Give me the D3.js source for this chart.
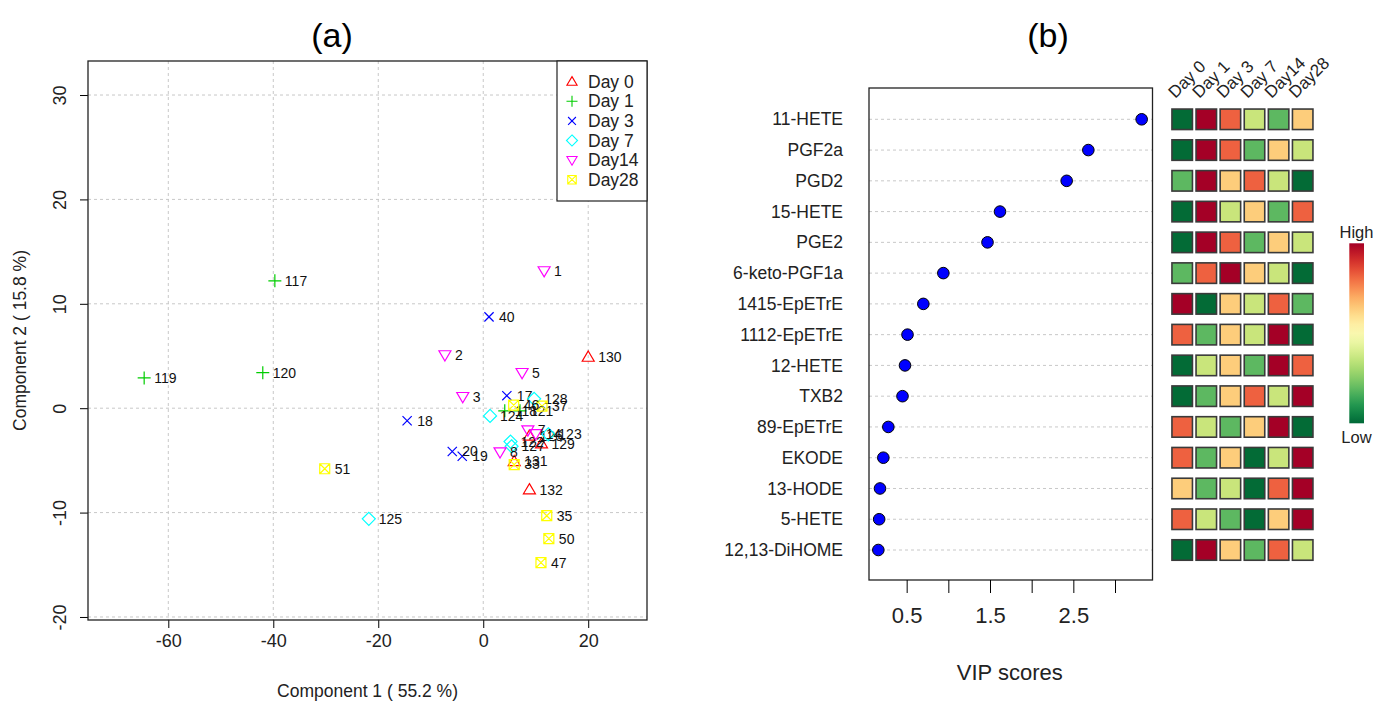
<!DOCTYPE html>
<html>
<head>
<meta charset="utf-8">
<script src="https://cdn.jsdelivr.net/npm/d3@7"></script>
<style>
  body { margin: 0; background: #fff; }
  svg { font-family: "Liberation Sans", Arial, sans-serif; }
</style>
</head>
<body>
<div id="chart"></div>
<script>
// panel (a) - PCA scores, one array per group: [label, comp1, comp2]
var groupNames = ["Day 0", "Day 1", "Day 3", "Day 7", "Day14", "Day28"];
var day0 = [["130", 20.0, 4.9], ["132", 8.8, -7.8], ["126", 8.8, -2.65], ["129", 11.1, -3.4], ["131", 5.9, -5.1]];
var day1 = [["117", -39.7, 12.2], ["119", -64.6, 2.9], ["120", -42.0, 3.4], ["118", 4.1, -0.25], ["121", 7.0, -0.25]];
var day3 = [["40", 1.1, 8.75], ["18", -14.5, -1.2], ["17", 4.5, 1.2], ["20", -5.9, -4.15], ["19", -4.0, -4.6]];
var day7 = [["125", -21.8, -10.6], ["124", 1.3, -0.74], ["128", 9.7, 0.9], ["123", 12.4, -2.5], ["122", 5.2, -3.2], ["127", 5.4, -3.65]];
var day14 = [["1", 11.6, 13.15], ["2", -7.3, 5.1], ["5", 7.4, 3.4], ["3", -3.9, 1.1], ["7", 8.5, -2.1], ["8", 3.2, -4.2], ["14", 10.0, -2.45]];
var day28 = [["51", -30.2, -5.8], ["35", 12.1, -10.3], ["50", 12.5, -12.5], ["47", 11.0, -14.8], ["46", 5.8, 0.3], ["37", 11.2, 0.2], ["33", 5.9, -5.4]];
var xTicksA = [-60, -40, -20, 0, 20];
var yTicksA = [-20, -10, 0, 10, 20, 30];

// panel (b) - VIP scores and relative level ranks (1 = low, 6 = high)
var compounds = ["11-HETE", "PGF2a", "PGD2", "15-HETE", "PGE2", "6-keto-PGF1a", "1415-EpETrE", "1112-EpETrE",
  "12-HETE", "TXB2", "89-EpETrE", "EKODE", "13-HODE", "5-HETE", "12,13-DiHOME"];
var vipScores = [3.32, 2.68, 2.42, 1.62, 1.47, 0.94, 0.70, 0.51, 0.48, 0.45, 0.28, 0.22, 0.18, 0.17, 0.16];
var heatDays = ["Day 0", "Day 1", "Day 3", "Day 7", "Day14", "Day28"];
var heatRanks = [
  [1, 6, 5, 3, 2, 4],
  [1, 6, 5, 2, 4, 3],
  [2, 6, 4, 5, 3, 1],
  [1, 6, 3, 4, 2, 5],
  [1, 6, 5, 2, 4, 3],
  [2, 5, 6, 4, 3, 1],
  [6, 1, 4, 3, 5, 2],
  [5, 2, 4, 3, 6, 1],
  [1, 3, 4, 2, 6, 5],
  [1, 2, 4, 5, 3, 6],
  [5, 3, 2, 4, 6, 1],
  [5, 2, 4, 1, 3, 6],
  [4, 2, 3, 1, 5, 6],
  [5, 3, 2, 1, 4, 6],
  [1, 6, 4, 2, 5, 3]
];
var vipTicks = [0.5, 1, 1.5, 2, 2.5, 3];
var vipTickLabels = ["0.5", "", "1.5", "", "2.5", ""];

var width = 1376, height = 703;
var svg = d3.select("#chart").append("svg").attr("width", width).attr("height", height);

// ---------- panel (a) ----------
var boxA = { left: 88, right: 647, top: 61, bottom: 620 };
var x = d3.scaleLinear().domain([-75.3, 31.2]).range([boxA.left, boxA.right]);
var y = d3.scaleLinear().domain([-20.29, 33.26]).range([boxA.bottom, boxA.top]);

var groupColors = ["#ff0000", "#00cd00", "#0000ff", "#00ffff", "#ff00ff", "#ffff00"];
var symbolPaths = [
  "M0,-6L6,4.2L-6,4.2Z",
  "M-6.5,0H6.5M0,-6.5V6.5",
  "M-4.6,-4.6L4.6,4.6M-4.6,4.6L4.6,-4.6",
  "M0,-6.5L6.5,0L0,6.5L-6.5,0Z",
  "M0,6L6,-4.2L-6,-4.2Z",
  "M-5,-5H5V5H-5ZM-5,-5L5,5M-5,5L5,-5"
];

var pa = svg.append("g");

pa.append("text").attr("x", 332).attr("y", 47).attr("text-anchor", "middle")
  .style("font-size", "34px").text("(a)");

// grid
pa.selectAll("line.gx").data(xTicksA).enter().append("line")
  .attr("x1", d => x(d)).attr("x2", d => x(d))
  .attr("y1", boxA.top).attr("y2", boxA.bottom)
  .attr("stroke", "#c8c8c8").attr("stroke-dasharray", "3,3");
pa.selectAll("line.gy").data(yTicksA).enter().append("line")
  .attr("y1", d => y(d)).attr("y2", d => y(d))
  .attr("x1", boxA.left).attr("x2", boxA.right)
  .attr("stroke", "#c8c8c8").attr("stroke-dasharray", "3,3");

// axes (plain hyphen minus, like R)
var xAxisA = d3.axisBottom(x).tickValues(xTicksA).tickFormat(d => String(d))
  .tickSize(8).tickSizeOuter(0).tickPadding(6);
var gx = pa.append("g").attr("transform", "translate(0," + boxA.bottom + ")").call(xAxisA);
gx.select(".domain").remove();
gx.selectAll("text").style("font-size", "18px").attr("fill", "#222");

var yAxisA = d3.axisLeft(y).tickValues(yTicksA).tickFormat(d => String(d))
  .tickSize(8).tickSizeOuter(0);
var gy = pa.append("g").attr("transform", "translate(" + boxA.left + ",0)").call(yAxisA);
gy.select(".domain").remove();
gy.selectAll("text")
  .attr("x", null)
  .attr("text-anchor", "middle")
  .attr("transform", "translate(-28,0) rotate(-90)")
  .attr("dy", "0.35em")
  .style("font-size", "18px").attr("fill", "#222");

pa.append("rect").attr("x", boxA.left).attr("y", boxA.top)
  .attr("width", boxA.right - boxA.left).attr("height", boxA.bottom - boxA.top)
  .attr("fill", "none").attr("stroke", "#222").attr("stroke-width", 1.3);

pa.append("text").attr("x", (boxA.left + boxA.right) / 2).attr("y", 697)
  .attr("text-anchor", "middle").style("font-size", "17.5px").attr("fill", "#222")
  .text("Component 1 ( 55.2 %)");
pa.append("text").attr("transform", "translate(26," + ((boxA.top + boxA.bottom) / 2) + ") rotate(-90)")
  .attr("text-anchor", "middle").style("font-size", "17.5px").attr("fill", "#222")
  .text("Component 2 ( 15.8 %)");

// points
var allGroups = [day0, day1, day3, day7, day14, day28];
allGroups.forEach(function(grp, gi) {
  var g = pa.append("g");
  g.selectAll("path").data(grp).enter().append("path")
    .attr("d", symbolPaths[gi])
    .attr("transform", d => "translate(" + x(d[1]) + "," + y(d[2]) + ")")
    .attr("fill", "none").attr("stroke", groupColors[gi]).attr("stroke-width", 1.2);
  g.selectAll("text").data(grp).enter().append("text")
    .attr("x", d => x(d[1]) + 10).attr("y", d => y(d[2]))
    .attr("dy", "0.35em").style("font-size", "14px").attr("fill", "#111")
    .text(d => d[0]);
});

// legend
var leg = pa.append("g");
leg.append("rect").attr("x", 557).attr("y", boxA.top).attr("width", boxA.right - 557).attr("height", 140)
  .attr("fill", "#fff").attr("stroke", "#222").attr("stroke-width", 1.2);
groupNames.forEach(function(name, i) {
  var ly = 81.7 + i * 19.6;
  leg.append("path").attr("d", symbolPaths[i])
    .attr("transform", "translate(572," + ly + ") scale(0.85)")
    .attr("fill", "none").attr("stroke", groupColors[i]).attr("stroke-width", 1.3);
  leg.append("text").attr("x", 588).attr("y", ly).attr("dy", "0.35em")
    .style("font-size", "17.5px").attr("fill", "#222").text(name);
});

// ---------- panel (b) ----------
var boxB = { left: 869, right: 1152.5, top: 88, bottom: 580 };
var vx = d3.scaleLinear().domain([0.048, 3.45]).range([boxB.left, boxB.right]);
var ry = d3.scalePoint().domain(compounds).range([119.3, 550]);
var pb = svg.append("g");

pb.append("text").attr("x", 1048).attr("y", 47).attr("text-anchor", "middle")
  .style("font-size", "34px").text("(b)");

pb.selectAll("line.row").data(compounds).enter().append("line")
  .attr("x1", boxB.left).attr("x2", boxB.right)
  .attr("y1", d => ry(d)).attr("y2", d => ry(d))
  .attr("stroke", "#c8c8c8").attr("stroke-dasharray", "3,3");

pb.selectAll("text.lab").data(compounds).enter().append("text")
  .attr("x", 843).attr("y", d => ry(d)).attr("dy", "0.35em")
  .attr("text-anchor", "end").style("font-size", "17.5px").attr("fill", "#222")
  .text(d => d);

pb.append("rect").attr("x", boxB.left).attr("y", boxB.top)
  .attr("width", boxB.right - boxB.left).attr("height", boxB.bottom - boxB.top)
  .attr("fill", "none").attr("stroke", "#222").attr("stroke-width", 1.3);

pb.selectAll("circle").data(compounds).enter().append("circle")
  .attr("cx", (d, i) => vx(vipScores[i])).attr("cy", d => ry(d)).attr("r", 5.8)
  .attr("fill", "#0000ff").attr("stroke", "#000").attr("stroke-width", 1);

var xAxisB = d3.axisBottom(vx).tickValues(vipTicks).tickFormat((d, i) => vipTickLabels[i])
  .tickSize(13).tickSizeOuter(0).tickPadding(14);
var gxb = pb.append("g").attr("transform", "translate(0," + boxB.bottom + ")").call(xAxisB);
gxb.select(".domain").remove();
gxb.selectAll("text").style("font-size", "22px").attr("fill", "#222");

pb.append("text").attr("x", (boxB.left + boxB.right) / 2 - 1).attr("y", 680)
  .attr("text-anchor", "middle").style("font-size", "22px").attr("fill", "#222")
  .text("VIP scores");

// heatmap
var heatColors = ["#036b36", "#5db861", "#c9e57b", "#fdcd7b", "#ee6140", "#a40026"];
var hx = d3.scalePoint().domain(heatDays).range([1182.2, 1302.7]);
var cell = 20.5;
heatRanks.forEach(function(row, ri) {
  pb.selectAll(null).data(row).enter().append("rect")
    .attr("x", (d, ci) => hx(heatDays[ci]) - cell / 2)
    .attr("y", ry(compounds[ri]) - cell / 2)
    .attr("width", cell).attr("height", cell)
    .attr("fill", d => heatColors[d - 1])
    .attr("stroke", "#3a3a3a").attr("stroke-width", 1.6);
});
pb.selectAll("text.day").data(heatDays).enter().append("text")
  .attr("transform", d => "translate(" + (hx(d) - 7) + ",99) rotate(-45)")
  .style("font-size", "17px").attr("fill", "#222").text(d => d);

// colour key
var defs = svg.append("defs");
var grad = defs.append("linearGradient").attr("id", "key").attr("x1", 0).attr("x2", 0).attr("y1", 0).attr("y2", 1);
d3.range(0, 1.0001, 0.05).forEach(function(t) {
  grad.append("stop").attr("offset", t).attr("stop-color", d3.interpolateRdYlGn(t));
});
pb.append("rect").attr("x", 1349.3).attr("y", 243.3).attr("width", 14.7).attr("height", 180)
  .attr("fill", "url(#key)");
pb.append("text").attr("x", 1356.5).attr("y", 232).attr("dy", "0.35em").attr("text-anchor", "middle")
  .style("font-size", "16.5px").attr("fill", "#222").text("High");
pb.append("text").attr("x", 1356.5).attr("y", 437).attr("dy", "0.35em").attr("text-anchor", "middle")
  .style("font-size", "16.5px").attr("fill", "#222").text("Low");
</script>
</body>
</html>
